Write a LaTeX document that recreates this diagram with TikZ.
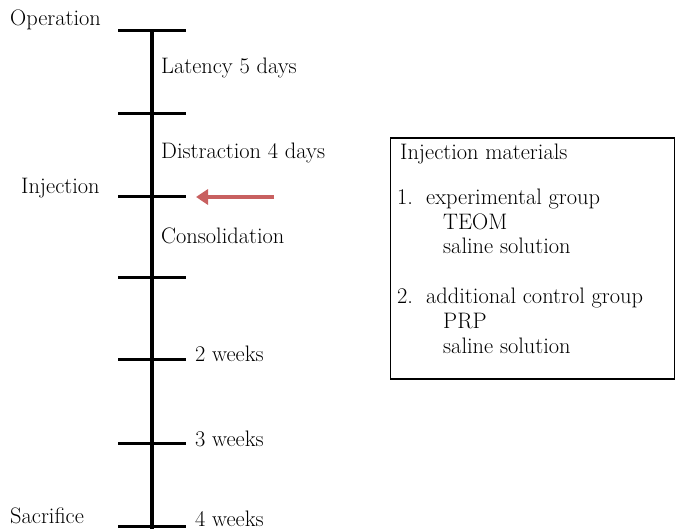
\documentclass[tikz,border=0pt]{standalone}
\usetikzlibrary{arrows.meta}
\definecolor{arrowred}{RGB}{200,96,96}
\tikzset{
  lbl/.style={anchor=base west, inner sep=0pt, font=\fontsize{22.4}{26}\selectfont},
  tick/.style={line width=3pt},
  axis/.style={line width=3.6pt},
}
\begin{document}
\begin{tikzpicture}[x=1pt,y=-1pt]
\useasboundingbox (0,0) rectangle (675,529);
% timeline
\coordinate (top) at (152,31);
\coordinate (bot) at (152,529);
\draw[axis] (top) -- (bot);
\foreach \n/\y in {t0/31,t1/114,t2/197,t3/278,t4/360,t5/443,t6/526}{
  \coordinate (\n L) at (118,\y);
  \coordinate (\n R) at (186,\y);
  \draw[tick] (\n L) -- (\n R);
}
% labels (y = baseline)
\node[lbl] (op) at (10,26) {Operation};
\node[lbl] (lat) at (161,74) {Latency 5 days};
\node[lbl] (dis) at (161,159) {Distraction 4 days};
\node[lbl] (inj) at (21,194) {Injection};
\node[lbl] (con) at (161,244) {Consolidation};
\node[lbl] (w2) at (195,362) {2 weeks};
\node[lbl] (w3) at (195,446) {3 weeks};
\node[lbl] (w4) at (195,526) {4 weeks};
\node[lbl] (sac) at (10,523) {Sacrifice};
% arrow
\coordinate (astart) at (274,197);
\coordinate (aend) at (196,197);
\draw[arrowred, line width=4pt, -{Triangle[length=12pt,width=15pt]}] (astart) -- (aend);
% box
\node[draw, line width=1.6pt, minimum width=284pt, minimum height=241pt, anchor=north west, inner sep=0pt] (box) at (389.5,137) {};
\node[lbl] (bt) at (400,160) {Injection materials};
\node[lbl] (n1) at (397,205) {1.};
\node[lbl] (g1) at (426,205) {experimental group};
\node[lbl] (teom) at (443,230) {TEOM};
\node[lbl] (s1) at (443,254) {saline solution};
\node[lbl] (n2) at (397,304) {2.};
\node[lbl] (g2) at (426,304) {additional control group};
\node[lbl] (prp) at (443,329) {PRP};
\node[lbl] (s2) at (443,354) {saline solution};
\end{tikzpicture}
\end{document}
